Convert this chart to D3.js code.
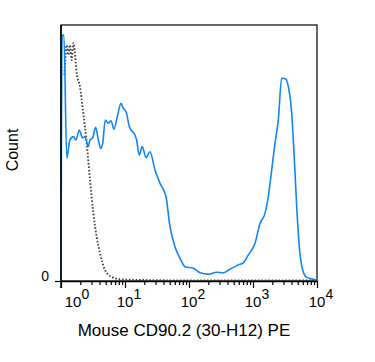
<!DOCTYPE html>
<meta charset="utf-8">
<title>Mouse CD90.2 (30-H12) PE</title>
<style>
  html, body { margin: 0; padding: 0; background: #fff; }
  svg { display: block; font-family: 'Liberation Sans', Arial, sans-serif; }
  .frame { fill: none; stroke: #000; stroke-width: 1.2px; }
  .axis path { stroke: #000; stroke-width: 1.5px; }
  .axis line { stroke: #000; stroke-width: 1.2px; }
  .stained { fill: none; stroke: #1285f5; stroke-width: 1.6px; }
  .control { fill: none; stroke: #444; stroke-width: 1.9px; stroke-dasharray: 1.6 1.8; }
</style>
<svg id="chart" width="375" height="362"></svg>
<script src="https://cdn.jsdelivr.net/npm/d3@7/dist/d3.min.js"></script>
<script>
  /* global d3 */
  'use strict'

  // stained sample (blue), PE intensity vs count (% of mode)
  const stainedX = [1.0, 1.04, 1.11, 1.23, 1.38, 1.56, 1.71, 1.93, 2.18, 2.37, 2.67,
    2.84, 3.13, 3.48, 3.83, 4.17, 4.48, 4.92, 5.48, 6.04, 6.73, 7.58, 8.66, 9.4,
    10.4, 11.7, 14.3, 15.2, 16.7, 18.6, 21.3, 24.6, 29.4, 35.2, 43.7, 50.5, 60.4,
    72.3, 86.6, 117, 149, 200, 271, 343, 437, 589, 705, 845, 1075, 1286, 1540,
    1734, 1960, 2207, 2485, 2805, 3047, 3280, 3565, 4027, 4375, 4820, 5287, 5980,
    6900, 8750, 10000]
  const stainedY = [0, 96.1, 96.1, 48.0, 55.1, 56.4, 55.1, 59.0, 55.9, 56.4, 52.5,
    55.1, 55.9, 60.0, 55.1, 51.8, 53.8, 62.9, 61.6, 62.6, 59.3, 64.2, 69.4, 67.5,
    66.1, 60.3, 57.0, 55.1, 49.2, 52.5, 48.2, 50.5, 43.4, 38.2, 32.9, 21.2, 13.4,
    8.9, 5.6, 5.0, 3.2, 2.7, 3.4, 3.2, 4.6, 6.3, 7.1, 10.2, 14.7, 22.5, 26.4,
    32.9, 43.4, 53.8, 62.9, 79.2, 79.1, 78.8, 75.9, 65.5, 49.9, 29.0, 13.4, 4.3,
    1.4, 0.7, 0.4]

  // unstained control (grey dotted)
  const controlX = [1.13, 1.23, 1.3, 1.38, 1.47, 1.56, 1.65, 1.76, 1.98, 2.23, 2.52,
    2.84, 3.2, 3.61, 4.07, 4.87, 6.2, 8.34, 17.1, 149, 10000]
  const controlY = [80.5, 92.2, 88.3, 92.2, 86.3, 93.0, 89.1, 81.3, 75.8, 65.6, 53.9,
    39.5, 26.6, 17.2, 10.9, 4.3, 1.6, 0.7, 0.4, 0.2, 0.2]

  const decades = [1, 10, 100, 1000, 10000]
  const exponents = ['0', '1', '2', '3', '4']

  const margin = { top: 25, left: 61 }
  const width = 256, height = 256

  const svg = d3.select('#chart')
  const g = svg.append('g')
    .attr('transform', `translate(${margin.left},${margin.top})`)

  const x = d3.scaleLog().domain([1, 10000]).range([0, width])
  const y = d3.scaleLinear().domain([0, 100]).range([height, 0])

  // frame round the plot
  g.append('rect').attr('class', 'frame')
    .attr('width', width).attr('height', height)

  const line = d3.line()
    .x(d => x(d[0]))
    .y(d => y(d[1]))
    .curve(d3.curveMonotoneX)

  g.append('path').attr('class', 'control')
    .attr('d', line(d3.zip(controlX, controlY)))
  g.append('path').attr('class', 'stained')
    .attr('d', line(d3.zip(stainedX, stainedY)))

  // bottom axis: majors at decades, minors 2..9
  const minors = []
  decades.slice(0, -1).forEach(d => {
    for (let k = 2; k <= 9; k++) minors.push(d * k)
  })
  const xAxis = g.append('g').attr('class', 'axis')
    .attr('transform', `translate(0,${height})`)
    .call(d3.axisBottom(x).tickValues(decades.concat(minors))
      .tickFormat('').tickSizeOuter(0).tickSizeInner(6))
  xAxis.selectAll('.tick line')
    .attr('y2', d => decades.includes(d) ? 7 : 4)

  // labels 10^n
  const lab = g.append('g').attr('class', 'xlabels')
    .selectAll('text').data(decades).enter().append('text')
    .attr('x', (d, i) => x(d) + (i === 0 ? 16 : 4))
    .attr('y', height + 26)
    .attr('text-anchor', 'middle')
    .style('font-size', '15px')
  lab.append('tspan').text('10')
  lab.append('tspan').attr('dy', -8).style('font-size', '14px')
    .text((d, i) => exponents[i])

  // left axis: only the 0 tick
  const yAxis = g.append('g').attr('class', 'axis')
    .call(d3.axisLeft(y).tickValues([0]).tickFormat(d3.format('d'))
      .tickSizeOuter(0).tickSizeInner(6))
  yAxis.select('.domain').attr('d', `M0,${height + 7}V0`)
  yAxis.selectAll('.tick text')
    .attr('x', -12).attr('dy', '-0.05em')
    .style('font-size', '14px').style('font-family', 'Liberation Sans, Arial, sans-serif')

  // titles
  svg.append('text')
    .attr('transform', 'translate(18,150) rotate(-90)')
    .attr('text-anchor', 'middle')
    .style('font-size', '16px')
    .text('Count')
  svg.append('text')
    .attr('x', 184).attr('y', 336)
    .attr('text-anchor', 'middle')
    .style('font-size', '17px')
    .text('Mouse CD90.2 (30-H12) PE')
</script>
